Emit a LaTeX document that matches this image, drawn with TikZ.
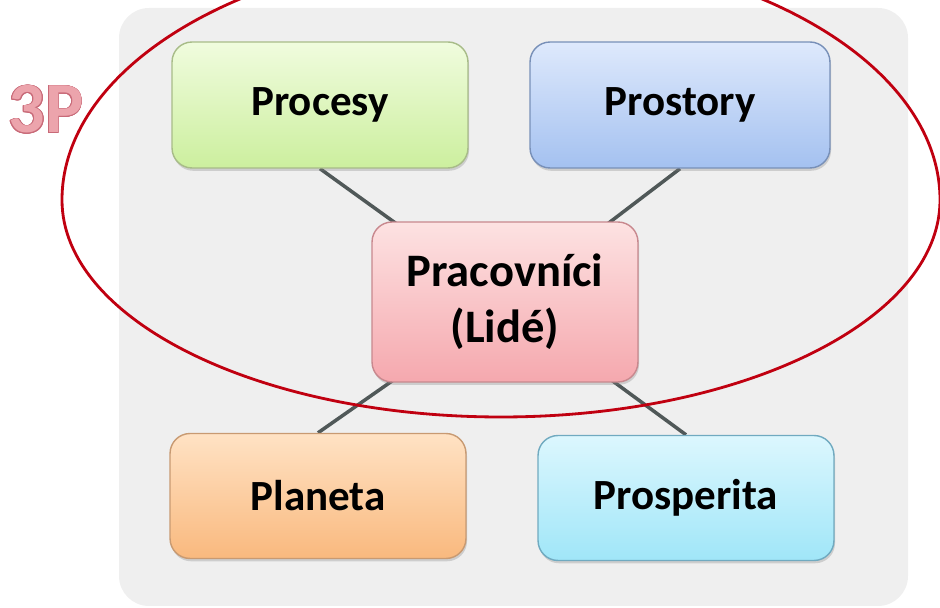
\documentclass[tikz,border=0pt]{standalone}
\usepackage{fontspec}
\setmainfont{Carlito}
\usepackage{contour}
\usetikzlibrary{shadows,backgrounds}

\definecolor{panelgray}{HTML}{EFEFEF}
\definecolor{linkgray}{HTML}{505858}
\definecolor{ringred}{HTML}{C00010}
\definecolor{threep}{HTML}{ECA4AC}
\definecolor{threepedge}{HTML}{C86A78}

\begin{document}
\begin{tikzpicture}[
  x=0.02cm, y=0.02cm,
  box/.style={rectangle, rounded corners=0.4cm, line width=0.8pt, align=center,
              font=\fontsize{24.5}{32}\selectfont\bfseries,
              drop shadow={shadow xshift=0.6pt, shadow yshift=-1.6pt, opacity=0.3}},
  greenbox/.style={box, draw={rgb,255:red,168;green,188;blue,136},
                   top color={rgb,255:red,240;green,252;blue,222}, bottom color={rgb,255:red,204;green,239;blue,158}},
  bluebox/.style={box, draw={rgb,255:red,120;green,144;blue,184},
                  top color={rgb,255:red,222;green,233;blue,252}, bottom color={rgb,255:red,164;green,193;blue,240}},
  pinkbox/.style={box, draw={rgb,255:red,200;green,136;blue,142},
                  top color={rgb,255:red,253;green,226;blue,226}, bottom color={rgb,255:red,245;green,168;blue,174}},
  orangebox/.style={box, draw={rgb,255:red,200;green,154;blue,114},
                    top color={rgb,255:red,255;green,226;blue,196}, bottom color={rgb,255:red,249;green,185;blue,126}},
  cyanbox/.style={box, draw={rgb,255:red,112;green,170;blue,192},
                  top color={rgb,255:red,220;green,247;blue,254}, bottom color={rgb,255:red,160;green,230;blue,248}},
  link/.style={line width=2pt, draw=linkgray},
]
\useasboundingbox (0,0) rectangle (940,608);

% boxes
\node[greenbox, minimum width=5.92cm, minimum height=2.52cm] (proc) at (320,503) {Procesy};
\node[bluebox, minimum width=6cm, minimum height=2.52cm] (prost) at (680,503) {Prostory};
\node[pinkbox, minimum width=5.32cm, minimum height=3.2cm,
      font=\fontsize{26.5}{32}\selectfont\bfseries] (prac) at (505,306) {Pracovníci\\(Lidé)};
\node[orangebox, minimum width=5.92cm, minimum height=2.5cm] (plan) at (318,112) {Planeta};
\node[cyanbox, minimum width=5.92cm, minimum height=2.5cm] (prosp) at (686,110) {Prosperita};

% panel and connectors
\begin{scope}[on background layer]
  \fill[panelgray, rounded corners=0.6cm] (119,2) rectangle (908,600);
  \draw[link] (proc.south) -- (prac.center);
  \draw[link] (prost.south) -- (prac.center);
  \draw[link] (plan.north) -- (prac.center);
  \draw[link] (prosp.north) -- (prac.center);
\end{scope}

% 3P ring
\draw[ringred, line width=1.6pt] (62,408) arc[start angle=180, end angle=360, x radius=439, y radius=217]
  arc[start angle=0, end angle=180, x radius=439, y radius=250];
\node[font=\fontsize{41}{44}\selectfont\bfseries, text=threep] (label3p) at (46,498) {\contourlength{0.5pt}\contour{threepedge}{3P}};

\end{tikzpicture}
\end{document}
